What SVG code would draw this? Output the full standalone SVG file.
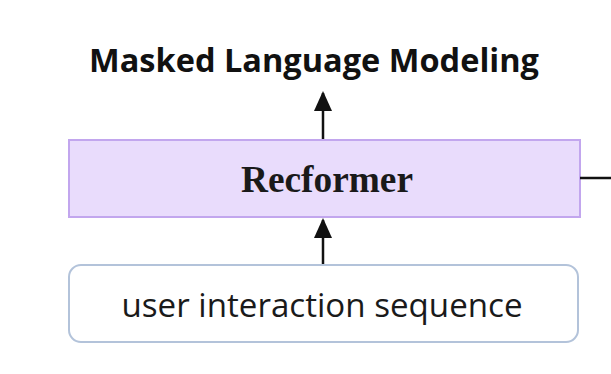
<svg xmlns="http://www.w3.org/2000/svg" width="611" height="374" viewBox="0 0 611 374">
  <style>
    .title { font-family: "Open Sans", "Liberation Sans", sans-serif; font-weight: bold; font-size: 33px; fill: #111; }
    .model { font-family: "Liberation Serif", "DejaVu Serif", serif; font-weight: bold; font-size: 38px; fill: #1a1a1a; }
    .input { font-family: "Open Sans", "Liberation Sans", sans-serif; font-size: 33px; fill: #1a1a1a; }
    .edge { stroke: #111; stroke-width: 2.5; fill: none; }
  </style>
  <defs>
    <marker id="head" viewBox="0 0 20 18" refX="18" refY="9" markerWidth="20" markerHeight="18" orient="auto" markerUnits="userSpaceOnUse">
      <path d="M0,0 L20,9 L0,18 Z" fill="#111"/>
    </marker>
  </defs>
  <rect width="611" height="374" fill="#ffffff"/>

  <g id="objective">
    <text class="title" x="314" y="72" text-anchor="middle" textLength="450" lengthAdjust="spacingAndGlyphs">Masked Language Modeling</text>
  </g>

  <g id="recformer">
    <rect x="69" y="140" width="511" height="77" fill="#e9dcfc" stroke="#c2a6ee" stroke-width="2"/>
    <text class="model" x="327" y="192" text-anchor="middle" textLength="172" lengthAdjust="spacingAndGlyphs">Recformer</text>
  </g>

  <g id="sequence">
    <rect x="69" y="265" width="509" height="77" rx="12" ry="12" fill="#ffffff" stroke="#b3c3da" stroke-width="2"/>
    <text class="input" x="322" y="317" text-anchor="middle" textLength="401" lengthAdjust="spacingAndGlyphs">user interaction sequence</text>
  </g>

  <g id="connectors">
    <line class="edge" x1="323" y1="139" x2="323" y2="93" marker-end="url(#head)"/>
    <line class="edge" x1="323" y1="264" x2="323" y2="220" marker-end="url(#head)"/>
    <line class="edge" x1="580" y1="178" x2="611" y2="178"/>
  </g>
</svg>
